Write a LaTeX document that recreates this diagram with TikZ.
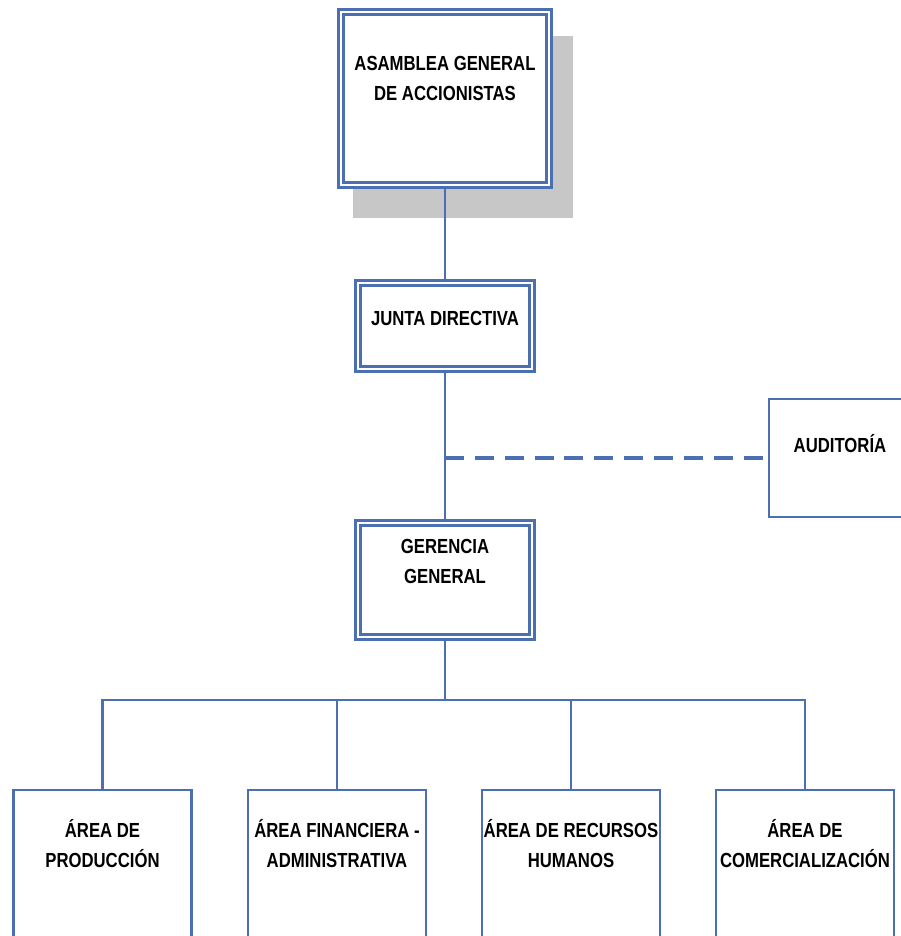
\documentclass[tikz,border=0pt]{standalone}
\usepackage{fontspec}
\setmainfont{Liberation Sans}[FakeStretch=0.82]
\usepackage{tikz}
\usetikzlibrary{calc, positioning, backgrounds}
\definecolor{lineBlue}{HTML}{4A6FB3}
\definecolor{shadowGray}{gray}{0.78}

\begin{document}
\begin{tikzpicture}[
    mainbox/.style={draw=lineBlue, line width=1.4pt, double=white, double distance=1.2pt, fill=white, minimum width=3.48cm},
    areabox/.style={draw=lineBlue, line width=1.4pt, fill=white, minimum width=3.56cm, minimum height=4cm},
    lbl/.style={font=\fontsize{11.6}{17}\selectfont\bfseries, align=center, inner sep=0pt},
    link/.style={draw=lineBlue, line width=1.4pt},
]
    \useasboundingbox (0,0) rectangle (18.02,-18.72);
    \clip (0,0) rectangle (18.02,-18.72);

    % boxes
    \node[mainbox, minimum width=4.16cm, minimum height=3.46cm] (asam) at (8.9,-1.97) {};
    \node[mainbox, minimum height=1.72cm] (junta) at (8.9,-6.52) {};
    \node[mainbox, minimum height=2.28cm] (ger) at (8.9,-11.6) {};
    \node[areabox, minimum width=2.92cm, minimum height=2.36cm] (aud) at (16.84,-9.16) {};
    \foreach \i/\x in {1/2.05, 2/6.74, 3/11.42, 4/16.1}
        \node[areabox] (area\i) at (\x,-17.8) {};

    % texts
    \node[lbl] (asamTxt) at ($(asam.north)+(0,-1.36)$) {ASAMBLEA GENERAL\\DE ACCIONISTAS};
    \node[lbl] (juntaTxt) at ($(junta.north)+(0,-0.74)$) {JUNTA DIRECTIVA};
    \node[lbl] (gerTxt) at ($(ger.north)+(0,-0.8)$) {GERENCIA\\GENERAL};
    \node[lbl] (audTxt) at ($(aud.north)+(-0.04,-0.92)$) {AUDITORÍA};
    \node[lbl] (areaTxt1) at ($(area1.north)+(0,-1.1)$) {ÁREA DE\\PRODUCCIÓN};
    \node[lbl] (areaTxt2) at ($(area2.north)+(0,-1.1)$) {ÁREA FINANCIERA -\\ADMINISTRATIVA};
    \node[lbl] (areaTxt3) at ($(area3.north)+(0,-1.1)$) {ÁREA DE RECURSOS\\HUMANOS};
    \node[lbl] (areaTxt4) at ($(area4.north)+(0,-1.1)$) {ÁREA DE\\COMERCIALIZACIÓN};

    \begin{scope}[on background layer]
        % shadow behind the assembly box
        \fill[shadowGray] ($(asam.south west)+(0.26,-0.64)$) rectangle ($(asam.north east)+(0.46,-0.5)$);

        % connectors
        \draw[link] (asam.south) -- (junta.north);
        \draw[link] (junta.south) -- (ger.north);
        \draw[link, dash pattern=on 10.8pt off 6.2pt, line width=1.9pt] (aud.west -| junta.south) -- (aud.west);
        \coordinate (bus) at (8.9,-14);
        \draw[link] (ger.south) -- (bus);
        \foreach \i in {1,...,4}
            \draw[link] (bus) -| (area\i.north);
    \end{scope}
\end{tikzpicture}
\end{document}
